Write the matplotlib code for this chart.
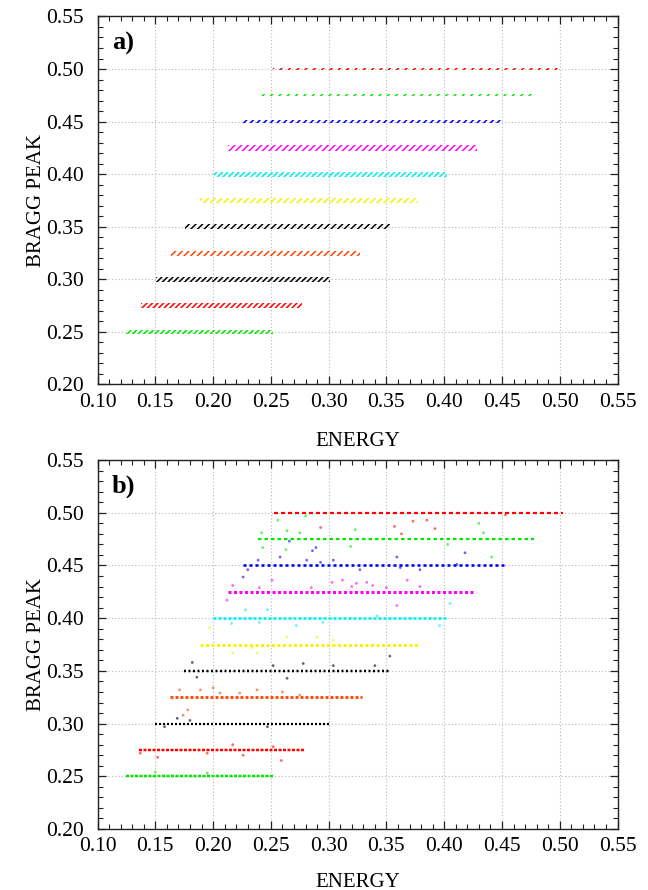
import matplotlib
matplotlib.use("Agg")
import matplotlib.pyplot as plt
from matplotlib.ticker import MultipleLocator, FormatStrFormatter

plt.rcParams["font.family"] = ["Liberation Serif", "DejaVu Serif"]
plt.rcParams["hatch.linewidth"] = 1.1

# ── band data ───────────────────────────────────────────────────────────────
levels = [0.25, 0.275, 0.30, 0.325, 0.35, 0.375, 0.40, 0.425, 0.45, 0.475, 0.50]
band_colors = ["#00e600", "#ff0000", "#000000", "#ff4500", "#000000", "#f2f200",
               "#00f0f0", "#ff00ff", "#0000ff", "#00e600", "#ff0000"]

# energy extent of each band, panel a
e_start_a = [0.125, 0.138, 0.151, 0.164, 0.176, 0.189, 0.201, 0.213, 0.226, 0.240, 0.252]
e_end_a   = [0.252, 0.277, 0.301, 0.327, 0.353, 0.377, 0.402, 0.428, 0.451, 0.477, 0.502]

# energy extent of each band, panel b
e_start_b = [0.125, 0.136, 0.150, 0.163, 0.175, 0.189, 0.200, 0.213, 0.226, 0.239, 0.253]
e_end_b   = [0.253, 0.279, 0.302, 0.329, 0.353, 0.377, 0.402, 0.427, 0.452, 0.478, 0.503]

# stray points of panel b (energy, Bragg peak, band index)
scat_e = [
    # 0.25 green
    0.150, 0.195,
    # 0.275 red
    0.137, 0.152, 0.217, 0.226, 0.259, 0.252, 0.195,
    # 0.30 black
    0.158, 0.169, 0.180, 0.247,
    # 0.325 orange
    0.171, 0.189, 0.200, 0.206, 0.223, 0.238, 0.260, 0.275, 0.178, 0.174,
    # 0.35 black
    0.182, 0.186, 0.252, 0.278, 0.304, 0.264, 0.353, 0.340,
    # 0.375 yellow
    0.197, 0.217, 0.234, 0.264, 0.290, 0.304, 0.238,
    # 0.40 cyan
    0.240, 0.272, 0.216, 0.405, 0.342, 0.396, 0.228, 0.247, 0.295,
    # 0.425 magenta
    0.212, 0.217, 0.251, 0.303, 0.312, 0.324, 0.333, 0.338, 0.350, 0.368,
    0.379, 0.320, 0.359, 0.285, 0.240,
    # 0.45 blue
    0.266, 0.258, 0.289, 0.286, 0.281, 0.293, 0.304, 0.359, 0.418, 0.239,
    0.230, 0.226, 0.362, 0.327, 0.379, 0.411,
    # 0.475 green
    0.256, 0.280, 0.242, 0.264, 0.275, 0.243, 0.263, 0.323, 0.319, 0.430,
    0.434, 0.441, 0.403,
    # 0.50 red
    0.293, 0.357, 0.363, 0.373, 0.385, 0.392, 0.453,
]
scat_b = [
    0.254, 0.253,
    0.272, 0.268, 0.280, 0.270, 0.265, 0.278, 0.272,
    0.297, 0.305, 0.303, 0.297,
    0.332, 0.332, 0.334, 0.329, 0.329, 0.332, 0.330, 0.327, 0.313, 0.308,
    0.358, 0.344, 0.355, 0.357, 0.355, 0.343, 0.364, 0.355,
    0.391, 0.367, 0.372, 0.382, 0.382, 0.379, 0.367,
    0.396, 0.393, 0.395, 0.414, 0.402, 0.393, 0.408, 0.408, 0.396,
    0.417, 0.431, 0.436, 0.434, 0.436, 0.433, 0.434, 0.431, 0.429, 0.436,
    0.430, 0.430, 0.412, 0.429, 0.429,
    0.473, 0.458, 0.467, 0.464, 0.455, 0.453, 0.455, 0.458, 0.462, 0.455,
    0.446, 0.439, 0.448, 0.446, 0.446, 0.451,
    0.493, 0.497, 0.481, 0.483, 0.481, 0.467, 0.465, 0.484, 0.468, 0.490,
    0.481, 0.458, 0.470,
    0.486, 0.487, 0.480, 0.492, 0.493, 0.485, 0.498,
]
scat_band = ([0] * 2 + [1] * 7 + [2] * 4 + [3] * 10 + [4] * 8 + [5] * 7
             + [6] * 9 + [7] * 15 + [8] * 16 + [9] * 13 + [10] * 7)

# ── mark styles ─────────────────────────────────────────────────────────────
# panel a: hatched strips (hatch pattern, strip height in px)
hatch_a  = ["/" * 6, "/" * 6, "/" * 6, "/" * 5, "/" * 5, "/" * 5, "/" * 6,
            "/" * 5, "/" * 5, "/" * 4, "/" * 4]
height_a = [4.5, 4.5, 4.5, 5.0, 5.0, 5.0, 5.0, 5.5, 3.0, 2.0, 2.0]
# panel b: dashed lines (linewidth, dash on, dash off; all px)
lw_b  = [2.5, 2.5, 2.2, 2.8, 2.5, 2.8, 2.6, 3.0, 2.6, 2.2, 2.2]
on_b  = [3.0, 3.0, 2.0, 3.0, 2.0, 3.0, 3.0, 3.0, 3.0, 3.5, 4.0]
off_b = [1.5, 1.5, 2.0, 2.0, 2.5, 2.5, 2.0, 2.5, 3.0, 3.0, 3.0]

PX = 0.72  # points per pixel at 100 dpi

fig = plt.figure(figsize=(6.48, 8.90), dpi=100)
ax_a = fig.add_axes([0.1505, 0.5680, 0.8025, 0.4135])
ax_b = fig.add_axes([0.1505, 0.0685, 0.8025, 0.4146])


def frame(ax, tag, xlab_y):
    ax.set_xlim(0.10, 0.55)
    ax.set_ylim(0.20, 0.55)
    ax.xaxis.set_major_locator(MultipleLocator(0.05))
    ax.yaxis.set_major_locator(MultipleLocator(0.05))
    ax.xaxis.set_minor_locator(MultipleLocator(0.01))
    ax.yaxis.set_minor_locator(MultipleLocator(0.01))
    ax.xaxis.set_major_formatter(FormatStrFormatter("%.2f"))
    ax.yaxis.set_major_formatter(FormatStrFormatter("%.2f"))
    ax.tick_params(which="both", direction="in", top=True, right=True,
                   labelsize=15.5, color="#222222")
    ax.tick_params(which="major", length=6, width=0.9)
    ax.tick_params(axis="x", which="major", pad=6)
    ax.tick_params(axis="y", which="major", pad=10)
    ax.tick_params(which="minor", length=3.5, width=0.8)
    for sp in ax.spines.values():
        sp.set_linewidth(1.0)
        sp.set_color("#222222")
    ax.grid(which="major", ls=(0, (1, 2)), color="#b8b8b8", lw=0.8)
    ax.set_axisbelow(True)
    ax.set_xlabel("ENERGY", fontsize=15)
    ax.set_ylabel("BRAGG PEAK", fontsize=15)
    ax.yaxis.set_label_coords(-0.100, 0.5)
    ax.xaxis.set_label_coords(0.5, xlab_y)
    ax.text(0.028, 0.928, tag, transform=ax.transAxes, fontsize=19,
            fontweight="bold", va="center", ha="left")


# ── panel a ─────────────────────────────────────────────────────────────────
frame(ax_a, "a)", -0.128)
dy_a = 0.35 / 368  # data units per px
for i, y in enumerate(levels):
    h = height_a[i] * dy_a / 2
    ax_a.fill_between([e_start_a[i], e_end_a[i]], y - h, y + h,
                      facecolor="none", edgecolor=band_colors[i], linewidth=0,
                      hatch=hatch_a[i], zorder=3)

# ── panel b ─────────────────────────────────────────────────────────────────
frame(ax_b, "b)", -0.118)
sc_colors = [band_colors[k] for k in scat_band]
ax_b.scatter(scat_e, scat_b, s=4, c=sc_colors, alpha=0.6, linewidths=0, zorder=2)
for i, y in enumerate(levels):
    lw = lw_b[i] * PX
    ax_b.plot([e_start_b[i], e_end_b[i]], [y, y], color=band_colors[i], lw=lw,
              ls=(0, (on_b[i] * PX / lw, off_b[i] * PX / lw)),
              solid_capstyle="butt", dash_capstyle="butt", zorder=3)

plt.savefig("out.png", dpi=100)
